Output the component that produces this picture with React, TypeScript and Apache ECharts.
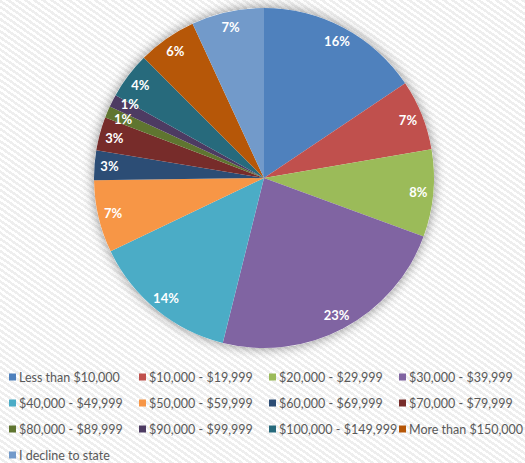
import React, { useEffect, useRef } from "react";
import * as echarts from "echarts";

const categories = [
  "Less than $10,000",
  "$10,000 - $19,999",
  "$20,000 - $29,999",
  "$30,000 - $39,999",
  "$40,000 - $49,999",
  "$50,000 - $59,999",
  "$60,000 - $69,999",
  "$70,000 - $79,999",
  "$80,000 - $89,999",
  "$90,000 - $99,999",
  "$100,000 - $149,999",
  "More than $150,000",
  "I decline to state",
];
const shares = [15.6, 6.7, 8.3, 23.3, 14.0, 6.9, 2.8, 3.2, 1.1, 1.2, 4.4, 5.6, 6.9];
const colors = [
  "#4F81BD", "#C0504D", "#9BBB59", "#8064A2", "#4BACC6", "#F79646",
  "#2C4D75", "#772C2A", "#5F7530", "#4D3B62", "#276A7C", "#B65708", "#729ACA",
];
// small label nudges for the two thin slices (as the reference spreads them)
const labelNudges: Record<number, number[]> = { 8: [2, 1], 9: [4, -4] };

export default function App() {
  const ref = useRef<HTMLDivElement>(null);
  useEffect(() => {
    document.body.style.margin = "0";
    const chart = echarts.init(ref.current!, null, { renderer: "svg" });
    const data = categories.map((name, i) => ({ name, value: shares[i], itemStyle: { color: colors[i] } }));
    const total = shares.reduce((a, b) => a + b, 0);
    const center = [264, 178];
    const R = 170;
    const cols = [0, 1, 2, 3].map((c) => categories.filter((_, i) => i % 4 === c));
    const colX = [9, 139, 269, 399];
    chart.setOption({
      animation: false,
      backgroundColor: "transparent",
      legend: cols.map((names, c) => ({
        data: names,
        orient: "vertical",
        left: colX[c],
        top: 369,
        height: 120,
        padding: 0,
        itemWidth: 7,
        itemHeight: 7,
        itemGap: 10,
        icon: "rect",
        selectedMode: false,
        textStyle: { fontFamily: "Lato", fontSize: 12.5, lineHeight: 16, color: "#595959", padding: [0, 0, 0, -2] },
      })),
      series: [
        {
          type: "pie",
          name: "shadow",
          center,
          radius: [0, R],
          silent: true,
          z: 1,
          label: { show: false },
          labelLine: { show: false },
          data: [{ name: "_bg", value: 1, itemStyle: { color: "#ffffff", shadowBlur: 12, shadowColor: "rgba(0,0,0,0.45)", shadowOffsetX: 0, shadowOffsetY: 0 } }],
        },
        {
          type: "pie",
          name: "income",
          center,
          radius: [0, R],
          startAngle: 90,
          clockwise: true,
          z: 2,
          avoidLabelOverlap: false,
          label: { show: false },
          labelLine: { show: false },
          emphasis: { disabled: true },
          data,
        },
        {
          type: "pie",
          name: "labels",
          center,
          radius: [R - 36, R],
          startAngle: 90,
          clockwise: true,
          z: 3,
          silent: true,
          avoidLabelOverlap: false,
          minShowLabelAngle: 0,
          labelLayout: { hideOverlap: false },
          itemStyle: { color: "transparent" },
          emphasis: { disabled: true },
          labelLine: { show: false },
          label: {
            show: true,
            position: "inside",
            fontFamily: "Lato",
            fontWeight: "bold",
            fontSize: 13,
            color: "#ffffff",
            formatter: (p: any) => Math.round((p.value / total) * 100) + "%",
          },
          data: categories.map((name, i) => ({
            name,
            value: shares[i],
            itemStyle: { color: "transparent" },
            ...(labelNudges[i] ? { label: { offset: labelNudges[i] } } : {}),
          })),
        },
      ],
    });
    return () => chart.dispose();
  }, []);
  return (
    <div
      ref={ref}
      style={{
        width: 525,
        height: 463,
        background: "repeating-linear-gradient(35deg, #ffffff 0px, #ffffff 2.5px, #eeeeee 2.5px, #eeeeee 5px)",
      }}
    />
  );
}
